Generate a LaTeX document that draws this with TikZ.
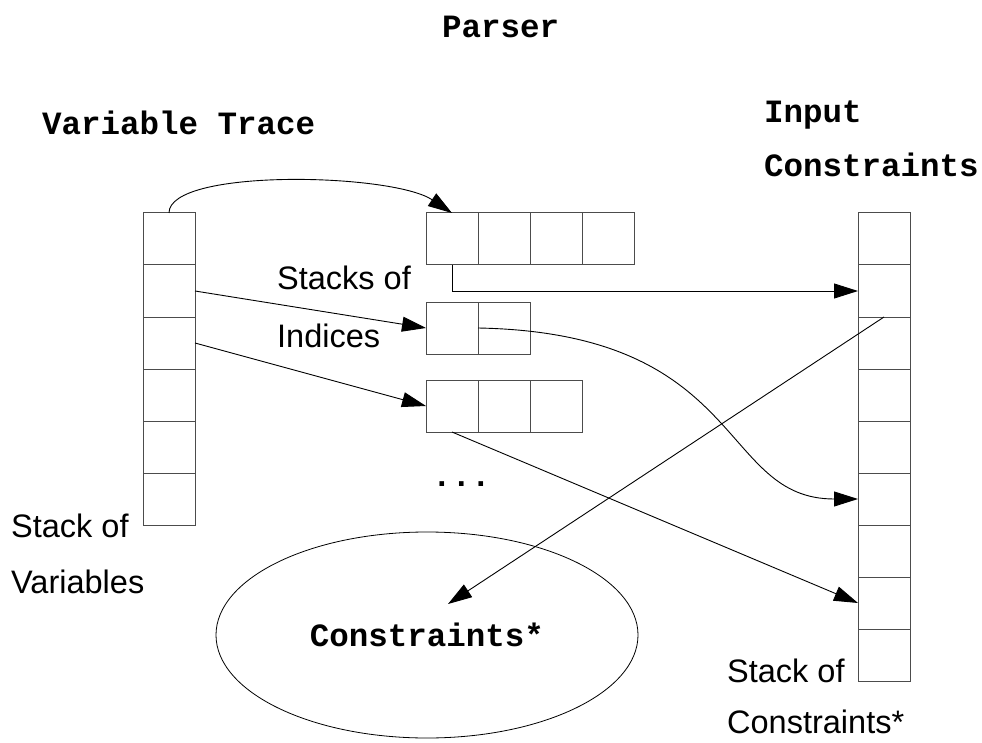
\documentclass[tikz,border=0pt]{standalone}
\usepackage{fontspec}
\setmainfont{Liberation Sans}
\setmonofont{Liberation Mono}
\usetikzlibrary{arrows.meta,shapes.geometric}

\begin{document}
\begin{tikzpicture}[x=1pt,y=-1pt,
    cell/.style={draw=black!70,line width=1pt,minimum width=52pt,minimum height=52pt,inner sep=0pt,outer sep=0pt,anchor=north west},
    lbl/.style={font=\fontsize{32.5}{38}\selectfont,inner sep=0pt,anchor=base west},
    ttl/.style={font=\fontsize{32.5}{38}\selectfont\ttfamily\bfseries,inner sep=0pt,anchor=base west},
    link/.style={line width=0.9pt,-{Triangle[length=24pt,width=15pt]}}]
    \useasboundingbox (0,0) rectangle (982,743);
    % stacks
    \foreach \i in {1,...,6} \node[cell] (v\i) at (143,{213+52*(\i-1)}) {};
    \foreach \i in {1,...,9} \node[cell] (c\i) at (858,{213+52*(\i-1)}) {};
    \foreach \i in {1,...,4} \node[cell] (a\i) at ({426+52*(\i-1)},213) {};
    \foreach \i in {1,2} \node[cell] (b\i) at ({426+52*(\i-1)},302) {};
    \foreach \i in {1,2,3} \node[cell] (d\i) at ({426+52*(\i-1)},380) {};
    \node[draw,line width=0.8pt,ellipse,minimum width=422pt,minimum height=206pt,inner sep=0pt,
          font=\fontsize{32.5}{38}\selectfont\ttfamily\bfseries] (cstar) at (427,635) {Constraints*};
    \coordinate (ctip) at (448,604);
    % texts
    \node[ttl] (parser) at (442,38) {Parser};
    \node[ttl] (vtrace) at (42,135) {Variable Trace};
    \node[ttl] (input) at (764,123) {Input};
    \node[ttl] (inconstr) at (764,177) {Constraints};
    \node[ttl] (dots) at (432,486) {...};
    \node[lbl] (svar1) at (11,537) {Stack of};
    \node[lbl] (svar2) at (11,593) {Variables};
    \node[lbl] (sidx1) at (277,290) {Stacks of};
    \node[lbl] (sidx2) at (277,347) {Indices};
    \node[lbl] (scon1) at (727,682) {Stack of};
    \node[lbl] (scon2) at (727,733) {Constraints*};
    % arrows
    \draw[link] (v1.north) .. controls +(0,-45) and +(-60,-40) .. (a1.north);
    \draw[link] (v2.east) -- (b1.west);
    \draw[link] (v3.east) -- (d1.west);
    \draw[link] (a1.south) |- (c2.west);
    \draw[link] (b1.east) .. controls +(270,5) and +(-140,0) .. (c6.west);
    \draw[link] (d1.south) -- (c8.west);
    \draw[link] (c2.south) -- (ctip);
\end{tikzpicture}
\end{document}
